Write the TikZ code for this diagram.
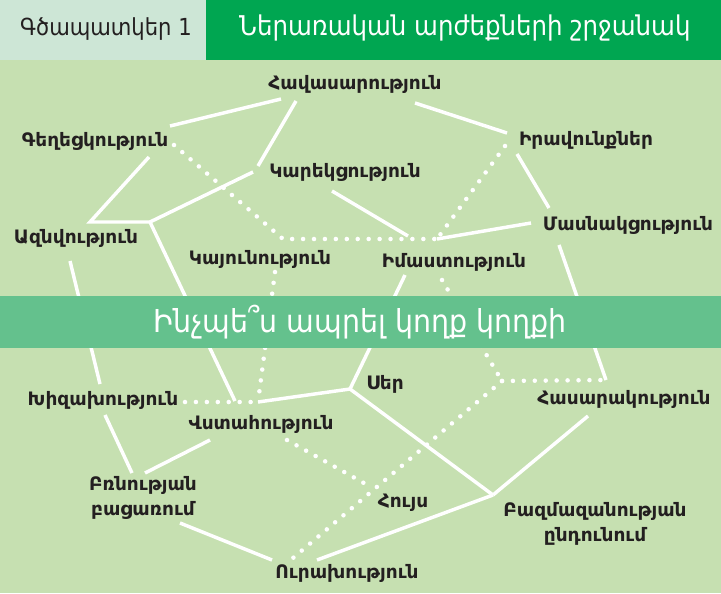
\documentclass[tikz,border=0pt]{standalone}
\usepackage{fontspec}
\setmainfont{DejaVu Sans}
\newfontfamily\narrowfont{DejaVu Sans Condensed}

\definecolor{bgfill}{RGB}{198,224,177}
\definecolor{headpale}{RGB}{205,230,214}
\definecolor{headgreen}{RGB}{0,166,81}
\definecolor{bandgreen}{RGB}{100,193,141}
\definecolor{labeltext}{RGB}{35,31,32}

\tikzset{
  value/.style={font=\bfseries\fontsize{13.9}{19}\selectfont, text=labeltext, inner sep=0pt, align=center},
  link/.style={white, line width=2.6pt},
  hint/.style={white, line width=3.4pt, line cap=round, dash pattern=on 0pt off 8.2pt},
}

\begin{document}
\begin{tikzpicture}[x=0.75pt, y=-0.75pt]
			\useasboundingbox (0,0) rectangle (721,593);
			\fill[bgfill] (0,0) rectangle (721,593);
			
			% Cabecalho
			\fill[headpale] (0,0) rectangle (206,60);
			\fill[headgreen] (206,0) rectangle (721,60);
			\node[text=labeltext, font=\narrowfont\fontsize{17.6}{20}\selectfont] (fig) at (106,29) {Գծապատկեր 1};
			\node[text=white, font=\narrowfont\fontsize{20.4}{24}\selectfont] (title) at (465,28) {Ներառական արժեքների շրջանակ};
			
			% Valores
			\node[value] (hav) at (355,84) {Հավասարություն};
			\node[value] (gegh) at (95,141) {Գեղեցկություն};
			\node[value] (irav) at (586,140) {Իրավունքներ};
			\node[value] (karek) at (345,172) {Կարեկցություն};
			\node[value] (azn) at (76,238) {Ազնվություն};
			\node[value] (masn) at (628,225) {Մասնակցություն};
			\node[value] (kay) at (260,259) {Կայունություն};
			\node[value] (imast) at (454,262) {Իմաստություն};
			\node[value] (khiz) at (103,400) {Խիզախություն};
			\node[value] (ser) at (385,384) {Սեր};
			\node[value] (vstah) at (261,424) {Վստահություն};
			\node[value] (hasar) at (624,399) {Հասարակություն};
			\node[value] (bnut) at (143,498) {Բռնության\\բացառում};
			\node[value] (huys) at (403,503) {Հույս};
			\node[value] (bazm) at (595,524) {Բազմազանության\\ընդունում};
			\node[value] (urakh) at (347,573) {Ուրախություն};
			
			% Pontos
			\coordinate (gegh-e) at (170,126);
			\coordinate (gegh-s) at (149,157);
			\coordinate (gegh-d) at (174,145);
			\coordinate (hav-w) at (281,99);
			\coordinate (hav-s) at (296,101);
			\coordinate (hav-e) at (415,103);
			\coordinate (irav-w) at (507,133);
			\coordinate (irav-d) at (505,146);
			\coordinate (irav-s) at (517,154);
			\coordinate (karek-n) at (258,166);
			\coordinate (karek-w) at (253,172);
			\coordinate (karek-e) at (332,191);
			\coordinate (masn-n) at (549,208);
			\coordinate (masn-w) at (531,223);
			\coordinate (masn-s) at (559,245);
			\coordinate (azn-s) at (70,261);
			\coordinate (kay-s) at (275,272);
			\coordinate (imast-s) at (405,275);
			\coordinate (imast-d) at (442,280);
			\coordinate (khiz-n) at (100,384);
			\coordinate (khiz-e) at (185,402);
			\coordinate (khiz-s) at (105,415);
			\coordinate (vstah-w) at (210,440);
			\coordinate (vstah-d) at (287,440);
			\coordinate (hasar-s) at (588,416);
			\coordinate (bnut-n) at (132,473);
			\coordinate (bnut-e) at (145,473);
			\coordinate (bnut-s) at (180,523);
			\coordinate (huys-w) at (371,487);
			\coordinate (urakh-w) at (272,560);
			\coordinate (urakh-d) at (293,558);
			\coordinate (urakh-e) at (317,560);
			
			% Cruzamentos
			\coordinate (J1) at (90,222);
			\coordinate (J2) at (150,222);
			\coordinate (J3) at (283,239);
			\coordinate (J4) at (408,236);
			\coordinate (J5) at (437,239);
			\coordinate (J6) at (350,389);
			\coordinate (J7) at (258,402);
			\coordinate (J8) at (235,401);
			\coordinate (J9) at (502,381);
			\coordinate (J10) at (606,380);
			\coordinate (J11) at (493,495);
			
			% Ligacoes
			\draw[link] (gegh-e) -- (hav-w);
			\draw[link] (hav-s) -- (karek-n);
			\draw[link] (hav-e) -- (irav-w);
			\draw[link, line join=miter] (gegh-s) -- (J1) -- (J2);
			\draw[link] (J2) -- (karek-w);
			\draw[link] (J2) -- (J8);
			\draw[link] (azn-s) -- (khiz-n);
			\draw[link] (karek-e) -- (J4);
			\draw[link] (irav-s) -- (masn-n);
			\draw[link] (J5) -- (masn-w);
			\draw[link] (masn-s) -- (J10);
			\draw[link] (imast-s) -- (J6);
			\draw[link] (J7) -- (J6);
			\draw[link] (J6) -- (J11);
			\draw[link] (hasar-s) -- (J11);
			\draw[link] (urakh-e) -- (J11);
			\draw[link] (bnut-s) -- (urakh-w);
			\draw[link] (khiz-s) -- (bnut-n);
			\draw[link] (bnut-e) -- (vstah-w);
			
			% Ligacoes pontilhadas
			\draw[hint] (gegh-d) -- (J3) -- (J5);
			\draw[hint] (irav-d) -- (J5);
			\draw[hint] (kay-s) -- (J7);
			\draw[hint] (khiz-e) -- (J7);
			\draw[hint] (imast-d) -- (J9);
			\draw[hint] (J9) -- (J10);
			\draw[hint] (J9) -- (urakh-d);
			\draw[hint] (vstah-d) -- (huys-w);
			
			% Faixa central
			\fill[bandgreen] (0,296) rectangle (721,348);
			\node[text=white, font=\narrowfont\fontsize{23.7}{26}\selectfont] (band) at (360,322) {Ինչպե՞ս ապրել կողք կողքի};
		\end{tikzpicture}
\end{document}
